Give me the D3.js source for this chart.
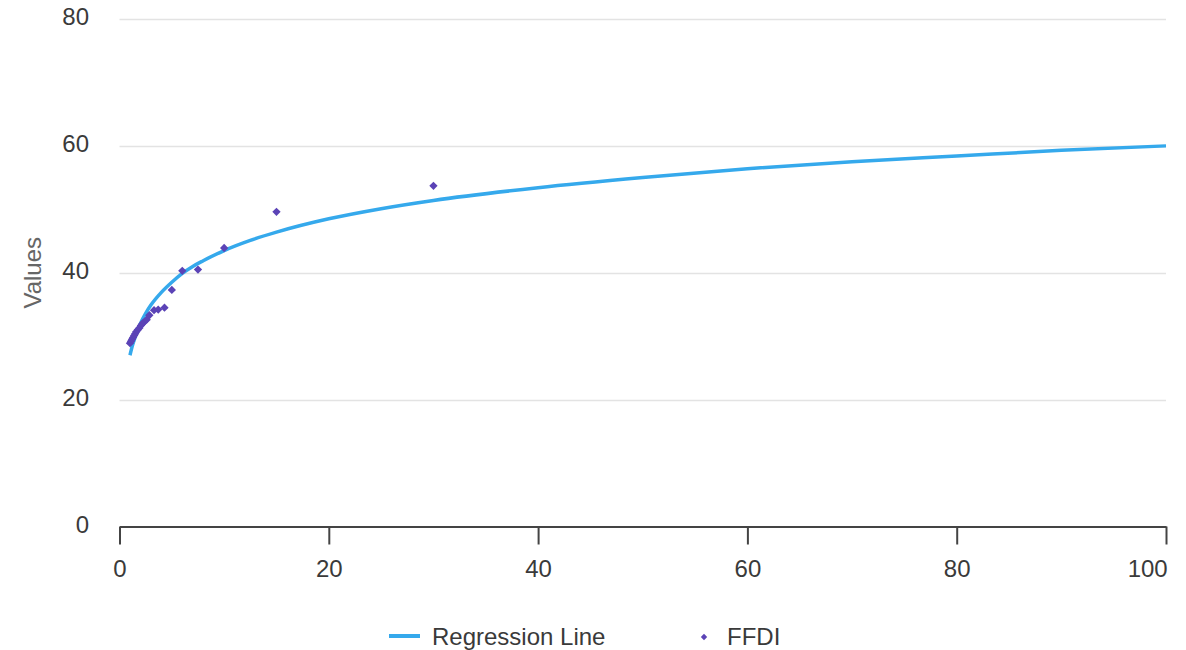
<!DOCTYPE html>
<html>
<head>
<meta charset="utf-8">
<script src="https://cdn.jsdelivr.net/npm/d3@7"></script>
<style>
  html, body { margin: 0; padding: 0; background: #fff; }
  svg { display: block; font-family: "Liberation Sans", Arial, sans-serif; }
</style>
</head>
<body>
<svg id="chart" width="1186" height="650"></svg>
<script>
// Scatter data (FFDI)
const ffdiX = [1.0, 1.1, 1.2, 1.3, 1.4, 1.5, 1.6, 1.75, 1.9, 2.05, 2.2, 2.4, 2.6, 2.85, 3.3, 3.7, 4.3, 5, 6, 7.5, 10, 15, 30];
const ffdiY = [28.9, 29.2, 29.5, 29.8, 30.1, 30.4, 30.7, 31.0, 31.3, 31.7, 32.0, 32.3, 32.6, 33.3, 34.1, 34.2, 34.5, 37.3, 40.3, 40.5, 43.9, 49.6, 53.7];
// Regression line points
const regX = [1, 1.25, 1.5, 2, 2.5, 3, 4, 5, 6, 7, 8, 10, 12.5, 15, 20, 25, 30, 40, 50, 60, 70, 80, 90, 100];
const regY = [27.0, 28.6, 29.9, 32.0, 33.6, 34.9, 36.9, 38.5, 39.9, 41.0, 41.9, 43.5, 45.1, 46.4, 48.5, 50.1, 51.4, 53.4, 55.0, 56.4, 57.5, 58.4, 59.3, 60.0];
const xTicks = [0, 20, 40, 60, 80, 100];
const yTicks = [0, 20, 40, 60, 80];
const yTitle = "Values";
const legendNames = ["Regression Line", "FFDI"];

const lineColor = "#35a9ec";
const dotColor = "#5b43b6";
const textColor = "#3a3a3a";
const fs = 24;

const svg = d3.select("#chart");
const mLeft = 119.5, mRight = 1166, mTop = 19, mBottom = 526.5;
const x = d3.scaleLinear().domain([0, 100]).range([mLeft, mRight]);
const y = d3.scaleLinear().domain([0, 80]).range([mBottom, mTop]);

// gridlines
svg.append("g").selectAll("line").data(yTicks.filter(d => d !== 0)).join("line")
  .attr("x1", mLeft).attr("x2", mRight)
  .attr("y1", d => Math.round(y(d)) + 0.5).attr("y2", d => Math.round(y(d)) + 0.5)
  .attr("stroke", "#e3e3e3").attr("stroke-width", 1.5);

// y tick labels
svg.append("g").selectAll("text").data(yTicks).join("text")
  .attr("x", 89).attr("y", d => y(d)).attr("dy", "0.26em")
  .attr("text-anchor", "end").attr("font-size", fs).attr("fill", textColor)
  .text(d => d);

// y title
svg.append("text")
  .attr("transform", `translate(41,${(mTop + mBottom) / 2}) rotate(-90)`)
  .attr("text-anchor", "middle").attr("font-size", fs).attr("fill", "#666")
  .text(yTitle);

// x axis
const xAxis = d3.axisBottom(x).tickValues(xTicks).tickSize(18).tickSizeOuter(0).tickPadding(15);
const gx = svg.append("g").attr("transform", `translate(0,${mBottom})`).call(xAxis);
gx.select(".domain").attr("stroke", "#444").attr("stroke-width", 2);
gx.selectAll(".tick line").attr("stroke", "#444").attr("stroke-width", 2);
gx.selectAll(".tick text").attr("font-size", fs).attr("fill", textColor)
  .attr("font-family", "Liberation Sans, Arial, sans-serif")
  .attr("text-anchor", d => d === 100 ? "end" : "middle")
  .attr("dx", d => d === 100 ? "0.05em" : 0);

// regression line
const regData = regX.map((d, i) => [d, regY[i]]);
svg.append("path").datum(regData)
  .attr("fill", "none").attr("stroke", lineColor).attr("stroke-width", 3.5)
  .attr("stroke-linecap", "butt")
  .attr("d", d3.line().x(d => x(d[0])).y(d => y(d[1])).curve(d3.curveMonotoneX));

// scatter diamonds
const diamond = d3.symbol().type(d3.symbolDiamond2).size(44);
svg.append("g").selectAll("path").data(ffdiX.map((d, i) => [d, ffdiY[i]])).join("path")
  .attr("transform", d => `translate(${x(d[0])},${y(d[1])})`)
  .attr("d", diamond).attr("fill", dotColor);

// legend
const lg = svg.append("g");
lg.append("line").attr("x1", 389).attr("x2", 420).attr("y1", 636).attr("y2", 636)
  .attr("stroke", lineColor).attr("stroke-width", 4);
lg.append("text").attr("x", 432).attr("y", 645)
  .attr("font-size", fs).attr("fill", textColor).text(legendNames[0]);
lg.append("path").attr("transform", "translate(704,637)")
  .attr("d", d3.symbol().type(d3.symbolDiamond2).size(26)).attr("fill", dotColor);
lg.append("text").attr("x", 727).attr("y", 645)
  .attr("font-size", fs).attr("fill", textColor).text(legendNames[1]);
</script>
</body>
</html>
